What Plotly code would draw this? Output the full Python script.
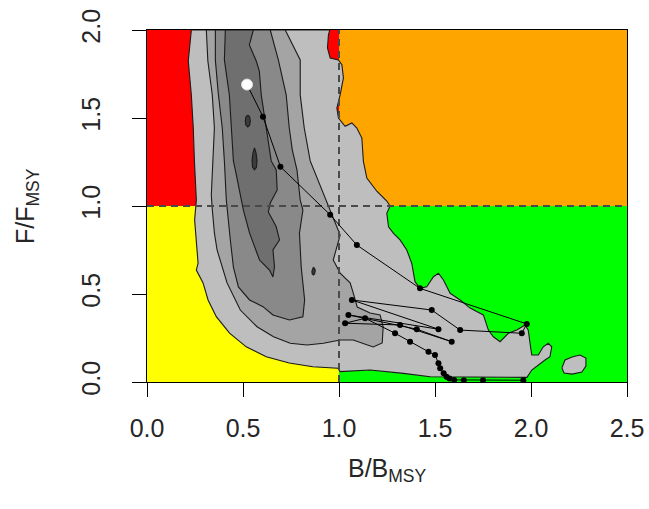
import plotly.graph_objects as go

# ---------------- data ----------------
B_REF = 1.0
F_REF = 1.0
B_MAX = 2.5
F_MAX = 2.0

x_ticks = [0.0, 0.5, 1.0, 1.5, 2.0, 2.5]
x_tick_labels = ["0.0", "0.5", "1.0", "1.5", "2.0", "2.5"]
y_ticks = [0.0, 0.5, 1.0, 1.5, 2.0]
y_tick_labels = ["0.0", "0.5", "1.0", "1.5", "2.0"]

# outermost density contour (level 1)
L1_B = [0.231, 0.215, 0.231, 0.241, 0.247, 0.257, 0.257, 0.248, 0.253, 0.266, 0.257, 0.292,
        0.318, 0.361, 0.430, 0.517, 0.621, 0.741, 0.864, 0.994, 1.006, 1.162, 1.336, 1.475,
        1.683, 1.979, 2.004, 2.047, 2.073, 2.099, 2.108, 2.090, 2.064, 2.038, 2.004, 1.995,
        1.986, 1.969, 1.926, 1.882, 1.839, 1.804, 1.778, 1.761, 1.752, 1.717, 1.683, 1.631,
        1.579, 1.544, 1.518, 1.492, 1.457, 1.422, 1.396, 1.379, 1.353, 1.318, 1.284, 1.258,
        1.249, 1.266, 1.249, 1.197, 1.145, 1.127, 1.119, 1.093, 1.067, 1.032, 0.997, 0.989,
        1.006, 1.023, 1.015, 0.997, 0.954, 0.940, 0.945, 0.952]
L1_F = [2.000, 1.824, 1.631, 1.443, 1.256, 1.063, 1.034, 0.920, 0.847, 0.676, 0.636, 0.563,
        0.466, 0.371, 0.278, 0.200, 0.144, 0.108, 0.087, 0.078, 0.059, 0.068, 0.049, 0.030,
        0.028, 0.026, 0.068, 0.106, 0.125, 0.144, 0.200, 0.220, 0.200, 0.153, 0.153, 0.220,
        0.295, 0.324, 0.295, 0.277, 0.229, 0.257, 0.295, 0.352, 0.381, 0.400, 0.420, 0.466,
        0.504, 0.580, 0.618, 0.598, 0.541, 0.532, 0.570, 0.674, 0.750, 0.807, 0.845, 0.882,
        0.958, 1.000, 1.028, 1.084, 1.159, 1.254, 1.386, 1.443, 1.472, 1.453, 1.500, 1.557,
        1.632, 1.727, 1.803, 1.830, 1.841, 1.898, 1.972, 2.000]

# small separate island of level 1
ISL_B = [2.161, 2.177, 2.214, 2.255, 2.286, 2.286, 2.265, 2.214, 2.172]
ISL_F = [0.080, 0.125, 0.142, 0.153, 0.136, 0.091, 0.057, 0.045, 0.051]

# level 2
L2_B = [0.309, 0.317, 0.340, 0.351, 0.343, 0.335, 0.339, 0.351, 0.365, 0.417, 0.486, 0.573,
        0.659, 0.746, 0.833, 0.919, 1.006, 1.074, 1.178, 1.225, 1.230, 1.214, 1.162, 1.095,
        1.074, 1.058, 1.006, 0.970, 1.006, 0.975, 0.933, 0.892, 0.850, 0.819, 0.798, 0.798,
        0.720]
L2_F = [2.000, 1.824, 1.631, 1.443, 1.256, 1.063, 0.994, 0.847, 0.750, 0.563, 0.409, 0.314,
        0.257, 0.220, 0.210, 0.220, 0.239, 0.239, 0.199, 0.222, 0.313, 0.381, 0.392, 0.426,
        0.506, 0.563, 0.619, 0.693, 0.835, 0.920, 1.034, 1.148, 1.256, 1.443, 1.631, 1.830,
        2.000]

# level 3
L3_B = [0.356, 0.356, 0.371, 0.392, 0.403, 0.413, 0.434, 0.450, 0.476, 0.534, 0.604, 0.656,
        0.742, 0.812, 0.821, 0.803, 0.794, 0.812, 0.798, 0.781, 0.757, 0.741, 0.725, 0.684,
        0.642]
L3_F = [2.000, 1.830, 1.642, 1.443, 1.256, 1.034, 0.807, 0.653, 0.540, 0.466, 0.428, 0.381,
        0.352, 0.371, 0.466, 0.655, 0.845, 0.977, 1.034, 1.205, 1.318, 1.443, 1.631, 1.830,
        2.000]

# level 4 (core)
L4_B = [0.408, 0.403, 0.429, 0.439, 0.450, 0.460, 0.486, 0.502, 0.534, 0.586, 0.638, 0.656,
        0.664, 0.656, 0.690, 0.673, 0.632, 0.642, 0.678, 0.673, 0.647, 0.621, 0.595, 0.585,
        0.569, 0.533, 0.554]
L4_F = [2.000, 1.830, 1.631, 1.443, 1.256, 1.205, 1.063, 0.977, 0.847, 0.693, 0.636, 0.597,
        0.655, 0.750, 0.807, 0.882, 0.966, 1.017, 1.091, 1.205, 1.256, 1.443, 1.631, 1.767,
        1.824, 1.915, 2.000]

# level 5 (tiny peaks)
P1_B = [0.525, 0.535, 0.538, 0.535, 0.525, 0.515, 0.512, 0.515]
P1_F = [1.517, 1.505, 1.483, 1.460, 1.449, 1.460, 1.483, 1.505]
P2_B = [0.560, 0.568, 0.573, 0.570, 0.560, 0.550, 0.547, 0.552]
P2_F = [1.330, 1.300, 1.260, 1.220, 1.205, 1.220, 1.260, 1.300]
P3_B = [0.867, 0.875, 0.876, 0.873, 0.867, 0.860, 0.859, 0.862]
P3_F = [0.653, 0.640, 0.630, 0.615, 0.608, 0.615, 0.630, 0.645]

# stock trajectory (B/BMSY, F/FMSY), last point = terminal year
traj_B = [1.960, 1.750, 1.650, 1.600, 1.575, 1.560, 1.545, 1.527, 1.518, 1.500, 1.466, 1.370,
          1.292, 1.136, 1.032, 1.318, 1.587, 1.405, 1.049, 1.518, 1.067, 1.483, 1.631, 1.952,
          1.978, 1.422, 1.093, 0.954, 0.695, 0.604, 0.521]
traj_F = [0.010, 0.010, 0.010, 0.012, 0.020, 0.030, 0.050, 0.078, 0.106, 0.153, 0.172, 0.229,
          0.277, 0.362, 0.334, 0.324, 0.229, 0.300, 0.381, 0.300, 0.466, 0.409, 0.295, 0.277,
          0.330, 0.532, 0.778, 0.950, 1.223, 1.507, 1.690]

# ---------------- styles ----------------
C_RED, C_ORANGE, C_YELLOW, C_GREEN = "#ff0000", "#ffa500", "#ffff00", "#00ff00"
LEVEL_COLS = ["#bebebe", "#a4a4a4", "#898989", "#6f6f6f", "#3c3c3c"]
FONT = "Liberation Sans, Arial, Helvetica, sans-serif"
TXT = "#262626"

fig = go.Figure()

# quadrant backgrounds
for x0, x1, y0, y1, c in [(0, B_REF, F_REF, F_MAX, C_RED), (B_REF, B_MAX, F_REF, F_MAX, C_ORANGE),
                          (0, B_REF, 0, F_REF, C_YELLOW), (B_REF, B_MAX, 0, F_REF, C_GREEN)]:
    fig.add_shape(type="rect", xref="x", yref="y", x0=x0, x1=x1, y0=y0, y1=y1,
                  fillcolor=c, line_width=0, layer="below")


def poly(bx, fy, col):
    fig.add_trace(go.Scatter(x=bx + bx[:1], y=fy + fy[:1], mode="lines", fill="toself",
                             fillcolor=col, line=dict(color="#1a1a1a", width=1.1),
                             hoverinfo="skip", showlegend=False))


poly(L1_B, L1_F, LEVEL_COLS[0])
poly(ISL_B, ISL_F, LEVEL_COLS[0])
poly(L2_B, L2_F, LEVEL_COLS[1])
poly(L3_B, L3_F, LEVEL_COLS[2])
poly(L4_B, L4_F, LEVEL_COLS[3])
for pb, pf in [(P1_B, P1_F), (P2_B, P2_F), (P3_B, P3_F)]:
    poly(pb, pf, LEVEL_COLS[4])

# reference lines
fig.add_trace(go.Scatter(x=[0, B_MAX], y=[F_REF, F_REF], mode="lines",
                         line=dict(color="#4a4a4a", width=2, dash="7px,5px"),
                         hoverinfo="skip", showlegend=False))
fig.add_trace(go.Scatter(x=[B_REF, B_REF], y=[0, F_MAX], mode="lines",
                         line=dict(color="#4a4a4a", width=2, dash="7px,5px"),
                         hoverinfo="skip", showlegend=False))

# trajectory
fig.add_trace(go.Scatter(x=traj_B, y=traj_F, mode="lines+markers",
                         line=dict(color="black", width=1),
                         marker=dict(color="black", size=6),
                         showlegend=False))
fig.add_trace(go.Scatter(x=traj_B[-1:], y=traj_F[-1:], mode="markers",
                         marker=dict(color="white", size=11, line=dict(color="#dddddd", width=1)),
                         showlegend=False))

axis_common = dict(showgrid=False, zeroline=False, showline=True, mirror=True,
                   linecolor="black", linewidth=1, ticks="outside", ticklen=14,
                   tickwidth=1, tickcolor="black", automargin=False,
                   tickfont=dict(family=FONT, size=25, color=TXT))

fig.update_xaxes(range=[0, B_MAX], tickvals=x_ticks, ticktext=x_tick_labels,
                 ticklabelstandoff=10, **axis_common)
fig.update_yaxes(range=[0, F_MAX], tickvals=y_ticks, ticktext=y_tick_labels,
                 tickangle=-90, ticklabelstandoff=22, **axis_common)

fig.add_annotation(text="B/B<sub>MSY</sub>", xref="paper", yref="paper", x=0.5, y=0,
                   yanchor="middle", yshift=-88, showarrow=False,
                   font=dict(family=FONT, size=25, color=TXT))
fig.add_annotation(text="F/F<sub>MSY</sub>", xref="paper", yref="paper", x=0, y=0.5,
                   xanchor="center", xshift=-120, textangle=-90, showarrow=False,
                   font=dict(family=FONT, size=25, color=TXT))

fig.update_layout(width=649, height=509, margin=dict(l=147, r=22, t=30, b=127),
                  plot_bgcolor="white", paper_bgcolor="white", showlegend=False)

# remove the page's default body margin so the figure fills the window exactly
fig.write_html("out.html", config={"displayModeBar": False},
               post_script="document.body.style.margin='0';document.body.style.overflow='hidden';")
